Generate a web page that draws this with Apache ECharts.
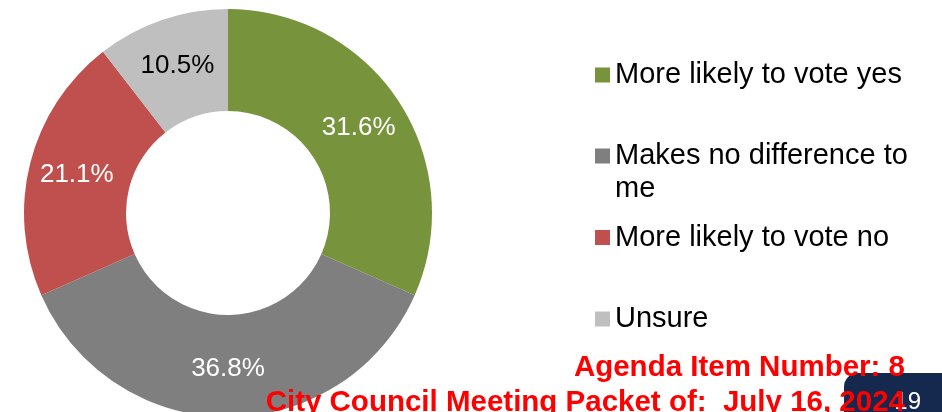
<!DOCTYPE html>
<html>
<head>
<meta charset="utf-8">
<script src="https://cdn.jsdelivr.net/npm/echarts@6/dist/echarts.min.js"></script>
<style>
html,body{margin:0;padding:0;background:#fff;}
#c{width:942px;height:412px;}
</style>
</head>
<body>
<div id="c"></div>
<script>
const categories = ['More likely to vote yes', 'Makes no difference to\nme', 'More likely to vote no', 'Unsure'];
const values = [31.6, 36.8, 21.1, 10.5];
const colors = ['#77933C', '#7F7F7F', '#C0504D', '#BFBFBF'];
const labelColors = ['#FFFFFF', '#FFFFFF', '#FFFFFF', '#000000'];
const legendCenters = [75, 156, 237.5, 319];
const footerLines = ['Agenda Item Number: 8', 'City Council Meeting Packet of:  July 16, 2024'];
const pageNumber = '19';

const FONT = '"Liberation Sans", Arial, sans-serif';
const LH = 33;

const chart = echarts.init(document.getElementById('c'), null, {renderer: 'canvas'});

const legends = categories.map((name, i) => {
  const twoLine = name.indexOf('\n') >= 0;
  return {
    data: [name],
    left: 595,
    top: twoLine ? legendCenters[i] - LH * 1.5 : legendCenters[i] - LH / 2,
    padding: 0,
    orient: 'vertical',
    icon: 'rect',
    itemWidth: 15,
    itemHeight: 15,
    selectedMode: false,
    formatter: twoLine ? (n => ' \n' + n) : (n => n),
    textStyle: {
      fontFamily: FONT,
      fontSize: 29,
      color: '#000000',
      lineHeight: LH
    }
  };
});

const option = {
  animation: false,
  backgroundColor: '#FFFFFF',
  color: colors,
  legend: legends,
  series: [{
    type: 'pie',
    center: [228, 213],
    radius: [102, 204],
    startAngle: 90,
    clockwise: true,
    avoidLabelOverlap: false,
    itemStyle: {borderWidth: 0},
    label: {
      show: true,
      position: 'inside',
      fontFamily: FONT,
      fontSize: 26,
      formatter: p => p.value.toFixed(1) + '%'
    },
    labelLine: {show: false},
    emphasis: {disabled: true},
    data: categories.map((n, i) => ({
      name: n,
      value: values[i],
      itemStyle: {color: colors[i]},
      label: {color: labelColors[i]}
    }))
  }],
  graphic: [
    {
      type: 'rect', z: 10,
      shape: {x: 844, y: 373, width: 120, height: 60, r: [14, 0, 0, 0]},
      style: {fill: '#15294F'}
    },
    {
      type: 'text', z: 11,
      style: {text: pageNumber, x: 921, y: 402, fill: '#FFFFFF', font: '24px ' + FONT, textAlign: 'right', textVerticalAlign: 'middle'}
    },
    {
      type: 'text', z: 12,
      style: {text: footerLines[0], x: 905, y: 367.5, fill: '#FF0000', font: 'bold 29.5px ' + FONT, textAlign: 'right', textVerticalAlign: 'middle'}
    },
    {
      type: 'text', z: 12,
      style: {text: footerLines[1], x: 905, y: 402.5, fill: '#FF0000', font: 'bold 29.5px ' + FONT, textAlign: 'right', textVerticalAlign: 'middle'}
    }
  ]
};
chart.setOption(option);
</script>
</body>
</html>
